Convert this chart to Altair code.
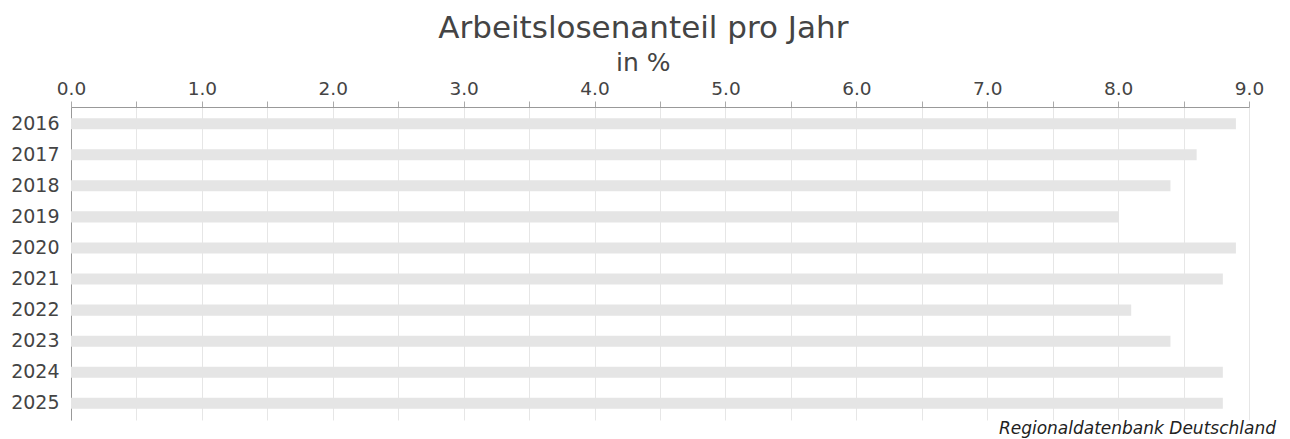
import altair as alt
import pandas as pd

years = ["2016", "2017", "2018", "2019", "2020", "2021", "2022", "2023", "2024", "2025"]
values = [8.9, 8.6, 8.4, 8.0, 8.9, 8.8, 8.1, 8.4, 8.8, 8.8]
source_text = ["Regionaldatenbank Deutschland"]

df = pd.DataFrame({"Jahr": years, "Wert": values})

FONT = "DejaVu Sans"
W = 1178
H = 313

bars = alt.Chart(df).mark_bar(color="#e5e5e5").encode(
    x=alt.X(
        "Wert:Q",
        scale=alt.Scale(domain=[0, 9], nice=False),
        axis=alt.Axis(
            orient="top",
            title=None,
            values=[i * 0.5 for i in range(19)],
            labelExpr="datum.value % 1 == 0 ? format(datum.value, '.1f') : ''",
            labelFont=FONT,
            labelFontSize=18.5,
            labelColor="#444444",
            labelPadding=3,
            labelFlush=False,
            domainColor="#999999",
            tickColor="#aaaaaa",
            tickSize=6,
            grid=True,
            gridColor="#e6e6e6",
        ),
    ),
    y=alt.Y(
        "Jahr:N",
        sort=years,
        scale=alt.Scale(paddingInner=0.646, paddingOuter=0.358),
        axis=alt.Axis(
            title=None,
            labelFont=FONT,
            labelFontSize=19,
            labelColor="#444444",
            ticks=False,
            labelPadding=12,
            domainColor="#999999",
            grid=False,
        ),
    ),
)

src = alt.Chart(pd.DataFrame({"t": source_text})).mark_text(
    font=FONT, fontSize=17, fontStyle="italic", align="right", baseline="alphabetic", color="#222222"
).encode(
    text="t:N",
    x=alt.value(W + 27),
    y=alt.value(H + 14),
)

chart = alt.layer(bars, src).properties(
    width=W,
    height=H,
    title=alt.TitleParams(
        text="Arbeitslosenanteil pro Jahr",
        subtitle="in %",
        font=FONT,
        fontSize=31,
        fontWeight="normal",
        color="#444444",
        subtitleFont=FONT,
        subtitleFontSize=25,
        subtitleColor="#444444",
        anchor="middle",
        frame="bounds",
        offset=2,
        subtitlePadding=6,
    ),
    padding={"left": 2, "top": 5, "right": 5, "bottom": 5},
).configure_view(stroke=None)

chart.save("out.html", embed_options={"renderer": "svg", "actions": False})
